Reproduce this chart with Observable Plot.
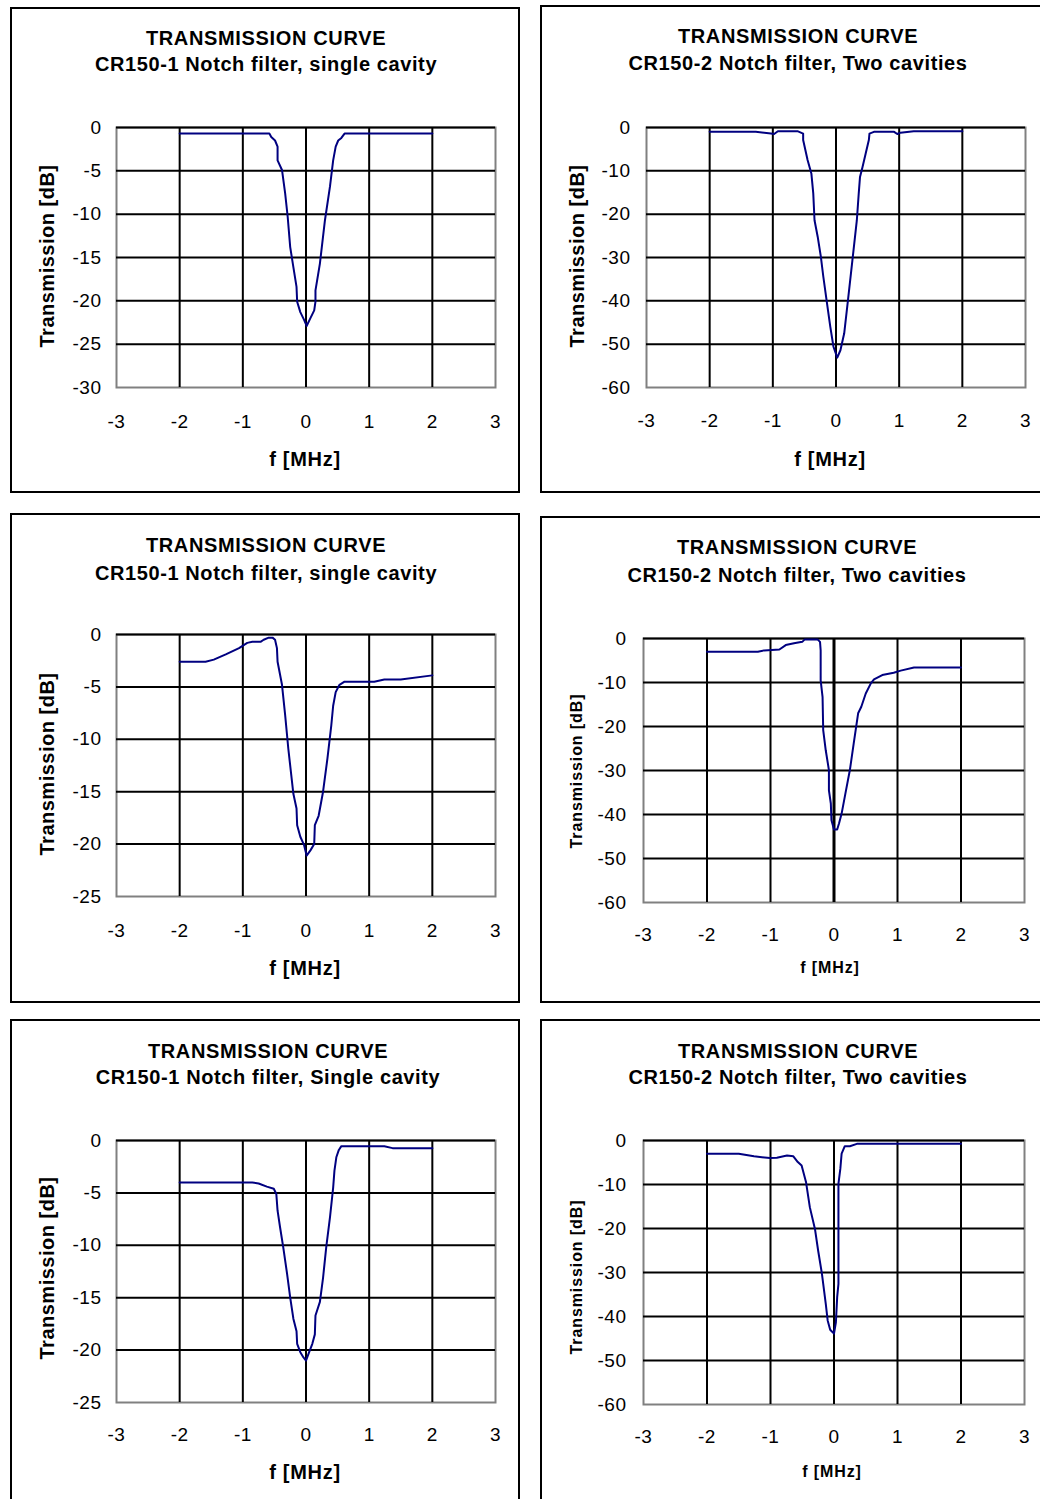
<!DOCTYPE html>
<html><head><meta charset="utf-8">
<script src="https://cdn.jsdelivr.net/npm/d3@7"></script>
<script src="https://cdn.jsdelivr.net/npm/@observablehq/plot@0.6"></script>
<style>
html,body{margin:0;padding:0;background:#fff;}
#page{position:relative;width:1040px;height:1499px;overflow:hidden;font-family:"Liberation Sans",Arial,sans-serif;color:#000;background:#fff;}
.box{position:absolute;border:2px solid #000;box-sizing:border-box;}
.t{position:absolute;white-space:nowrap;transform:translate(-50%,-50%);font-weight:bold;}
.yl{transform:translate(-50%,-50%) rotate(-90deg);}
.plot{position:absolute;}
</style></head><body><div id="page"></div>
<script>
// ---- data ----
const xTicks = [-3, -2, -1, 0, 1, 2, 3];
const xGrid = [-2, -1, 0, 1, 2];
const yTicks30 = [0, -5, -10, -15, -20, -25, -30];
const yTicks25 = [0, -5, -10, -15, -20, -25];
const yTicks60 = [0, -10, -20, -30, -40, -50, -60];

const titleMain = "TRANSMISSION CURVE";
const subtitles = [
  "CR150-1 Notch filter, single cavity",
  "CR150-2 Notch filter, Two cavities",
  "CR150-1 Notch filter, single cavity",
  "CR150-2 Notch filter, Two cavities",
  "CR150-1 Notch filter, Single cavity",
  "CR150-2 Notch filter, Two cavities"
];
const yLabel = "Transmission [dB]";
const xLabel = "f [MHz]";

const p1F = [-2, -0.58, -0.55, -0.49, -0.45, -0.45, -0.38, -0.33, -0.29, -0.25, -0.2, -0.15, -0.14, -0.09, -0.03, 0.01, 0.07, 0.13, 0.15, 0.15, 0.22, 0.3, 0.38, 0.43, 0.47, 0.51, 0.56, 0.61, 2];
const p1T = [-0.7, -0.7, -1.1, -1.5, -2.2, -3.8, -4.9, -7.6, -10.3, -13.8, -16.1, -18.4, -20.1, -21.3, -22.2, -22.9, -22.0, -21.1, -20.1, -18.8, -15.7, -10.7, -6.8, -3.8, -2.2, -1.5, -1.2, -0.7, -0.7];

const p2F = [-2, -1.5, -1.27, -1.03, -0.98, -0.92, -0.61, -0.52, -0.52, -0.45, -0.39, -0.36, -0.34, -0.29, -0.24, -0.2, -0.15, -0.09, -0.04, 0.02, 0.07, 0.13, 0.19, 0.26, 0.33, 0.36, 0.38, 0.42, 0.47, 0.52, 0.53, 0.6, 0.92, 0.97, 1.02, 1.23, 2];
const p2T = [-1.0, -1.0, -1.0, -1.4, -1.5, -0.85, -0.85, -1.4, -2.9, -7.5, -10.6, -15.2, -21.4, -25.2, -29.8, -34.5, -39.8, -46, -50.6, -53.1, -51.4, -47.5, -39.8, -30.6, -21.4, -15.2, -11.4, -9.1, -6, -2.9, -1.4, -1.0, -1.0, -1.5, -1.2, -0.85, -0.85];

const p3F = [-2, -1.59, -1.46, -1.27, -1.06, -0.93, -0.85, -0.72, -0.67, -0.59, -0.53, -0.49, -0.46, -0.45, -0.38, -0.33, -0.28, -0.2, -0.15, -0.14, -0.09, -0.03, 0.01, 0.07, 0.13, 0.14, 0.2, 0.27, 0.34, 0.4, 0.43, 0.47, 0.53, 0.61, 1.08, 1.24, 1.5, 2];
const p3T = [-2.6, -2.6, -2.4, -1.9, -1.3, -0.8, -0.7, -0.7, -0.5, -0.3, -0.3, -0.5, -1.3, -2.6, -4.8, -7.7, -10.9, -15.2, -16.6, -18.2, -19.3, -20.1, -21.1, -20.6, -20.0, -18.2, -17.3, -15.0, -11.8, -8.7, -6.8, -5.5, -4.8, -4.5, -4.5, -4.3, -4.3, -3.9];

const p4F = [-2, -1.2, -1.1, -0.86, -0.76, -0.63, -0.5, -0.46, -0.26, -0.22, -0.21, -0.21, -0.18, -0.17, -0.13, -0.08, -0.08, -0.05, -0.04, 0, 0.05, 0.08, 0.12, 0.18, 0.25, 0.31, 0.38, 0.43, 0.5, 0.58, 0.63, 0.76, 0.94, 1.05, 1.26, 2];
const p4T = [-3.0, -3.0, -2.7, -2.5, -1.5, -1.1, -0.76, -0.2, -0.2, -0.76, -2.7, -9.5, -13.3, -20.8, -25.4, -29.9, -34.5, -37.5, -41.3, -43.4, -43.4, -42, -39.8, -35.2, -29.9, -23.9, -17, -15.5, -12.5, -10.2, -9.3, -8.3, -7.8, -7.3, -6.6, -6.6];

const p5F = [-2, -0.85, -0.75, -0.62, -0.51, -0.47, -0.45, -0.41, -0.36, -0.3, -0.25, -0.2, -0.15, -0.14, -0.09, -0.04, 0, 0.05, 0.1, 0.14, 0.15, 0.22, 0.27, 0.32, 0.38, 0.43, 0.45, 0.48, 0.52, 0.56, 1.24, 1.37, 2];
const p5T = [-4.0, -4.0, -4.1, -4.4, -4.6, -5.1, -6.7, -8.3, -10.2, -12.7, -15.0, -17.0, -18.2, -19.4, -20.2, -20.7, -21.0, -20.2, -19.4, -18.5, -16.7, -15.4, -13.1, -10.2, -7.3, -4.5, -2.9, -1.6, -0.9, -0.54, -0.54, -0.73, -0.73];

const p6F = [-2, -1.5, -1.26, -1.01, -0.9, -0.74, -0.64, -0.57, -0.51, -0.44, -0.38, -0.3, -0.25, -0.19, -0.13, -0.1, -0.06, 0, 0.03, 0.05, 0.07, 0.07, 0.07, 0.1, 0.12, 0.17, 0.25, 0.36, 2];
const p6T = [-3.0, -3.0, -3.6, -4.0, -3.9, -3.4, -3.6, -4.9, -5.7, -9.5, -15.2, -20.1, -25, -30.3, -37.1, -40.9, -43, -43.9, -41.3, -35.6, -32.6, -20.5, -9.8, -6.4, -3.0, -1.3, -1.3, -0.76, -0.76];

// ---- layout (positions and styles) ----
const panels = [
  {f: p1F, t: p1T, yTicks: yTicks30, box: [10, 7, 520, 493], frame: [116, 127, 495, 387], tx: 266, ty: 38, sy: 64, ylx: 47, yly: 256, xlx: 305, xly: 459, small: false, xOff: 34, yPad: 15, zeroW: 2},
  {f: p2F, t: p2T, yTicks: yTicks60, box: [540, 5, 1062, 493], frame: [646, 127, 1025, 387], tx: 798, ty: 36, sy: 63, ylx: 577, yly: 256, xlx: 830, xly: 459, small: false, xOff: 33, yPad: 16, zeroW: 2},
  {f: p3F, t: p3T, yTicks: yTicks25, box: [10, 513, 520, 1003], frame: [116, 634, 495, 896], tx: 266, ty: 545, sy: 573, ylx: 47, yly: 764, xlx: 305, xly: 968, small: false, xOff: 34, yPad: 15, zeroW: 2},
  {f: p4F, t: p4T, yTicks: yTicks60, box: [540, 516, 1062, 1003], frame: [643, 638, 1024, 902], tx: 797, ty: 547, sy: 575, ylx: 577, yly: 771, xlx: 830, xly: 968, small: true, xOff: 32, yPad: 17, zeroW: 3},
  {f: p5F, t: p5T, yTicks: yTicks25, box: [10, 1019, 520, 1530], frame: [116, 1140, 495, 1402], tx: 268, ty: 1051, sy: 1077, ylx: 47, yly: 1268, xlx: 305, xly: 1472, small: false, xOff: 32, yPad: 15, zeroW: 2},
  {f: p6F, t: p6T, yTicks: yTicks60, box: [540, 1019, 1062, 1530], frame: [643, 1140, 1024, 1404], tx: 798, ty: 1051, sy: 1077, ylx: 577, yly: 1277, xlx: 832, xly: 1472, small: true, xOff: 32, yPad: 17, zeroW: 2}
];

const page = document.getElementById("page");
const FONT = '"Liberation Sans", Arial, Helvetica, sans-serif';

function addText(str, x, y, size, spacing, rotate) {
  const d = document.createElement("div");
  d.className = "t" + (rotate ? " yl" : "");
  d.textContent = str;
  d.style.left = x + "px";
  d.style.top = y + "px";
  d.style.fontSize = size + "px";
  d.style.letterSpacing = spacing + "px";
  page.appendChild(d);
}

panels.forEach((p, i) => {
  const box = document.createElement("div");
  box.className = "box";
  box.style.left = p.box[0] + "px";
  box.style.top = p.box[1] + "px";
  box.style.width = (p.box[2] - p.box[0]) + "px";
  box.style.height = (p.box[3] - p.box[1]) + "px";
  page.appendChild(box);

  addText(titleMain, p.tx, p.ty, 20, 0.65, false);
  addText(subtitles[i], p.tx, p.sy, 20, 0.6, false);

  const mL = 75, mT = 12, mR = 20, mB = 50;
  const fw = p.frame[2] - p.frame[0], fh = p.frame[3] - p.frame[1];
  const yMin = d3.min(p.yTicks), yMax = d3.max(p.yTicks);
  const yGrid = p.yTicks.filter(v => v > yMin);
  const n = Math.min(p.f.length, p.t.length);
  const data = d3.range(n).map(k => ({f: p.f[k], t: p.t[k]}));

  const chart = Plot.plot({
    width: fw + mL + mR,
    height: fh + mT + mB,
    marginLeft: mL, marginRight: mR, marginTop: mT, marginBottom: mB,
    x: {domain: [-3, 3]},
    y: {domain: [yMin, yMax]},
    style: {fontSize: "19px", fontFamily: FONT, background: "transparent", color: "#000", overflow: "visible", letterSpacing: "0.5px"},
    marks: [
      Plot.frame({stroke: "#808080", strokeWidth: 2}),
      Plot.ruleX(xGrid, {stroke: "#000", strokeWidth: 2}),
      Plot.ruleY(yGrid, {stroke: "#000", strokeWidth: 2}),
      Plot.ruleX([0], {stroke: "#000", strokeWidth: p.zeroW}),
      Plot.line(data, {x: "f", y: "t", stroke: "#000080", strokeWidth: 2}),
      Plot.axisX(xTicks, {tickSize: 0, tickPadding: p.xOff - 7, tickFormat: d => String(d), label: null}),
      Plot.axisY(p.yTicks, {tickSize: 0, tickPadding: p.yPad, tickFormat: d => String(d), label: null})
    ]
  });
  chart.classList.add("plot");
  chart.style.position = "absolute";
  chart.style.left = (p.frame[0] - mL) + "px";
  chart.style.top = (p.frame[1] - mT) + "px";
  page.appendChild(chart);

  if (p.small) {
    addText(yLabel, p.ylx, p.yly, 16, 0.9, true);
    addText(xLabel, p.xlx, p.xly, 16, 0.9, false);
  } else {
    addText(yLabel, p.ylx, p.yly, 20, 0.5, true);
    addText(xLabel, p.xlx, p.xly, 20, 0.7, false);
  }
});
</script></body></html>
